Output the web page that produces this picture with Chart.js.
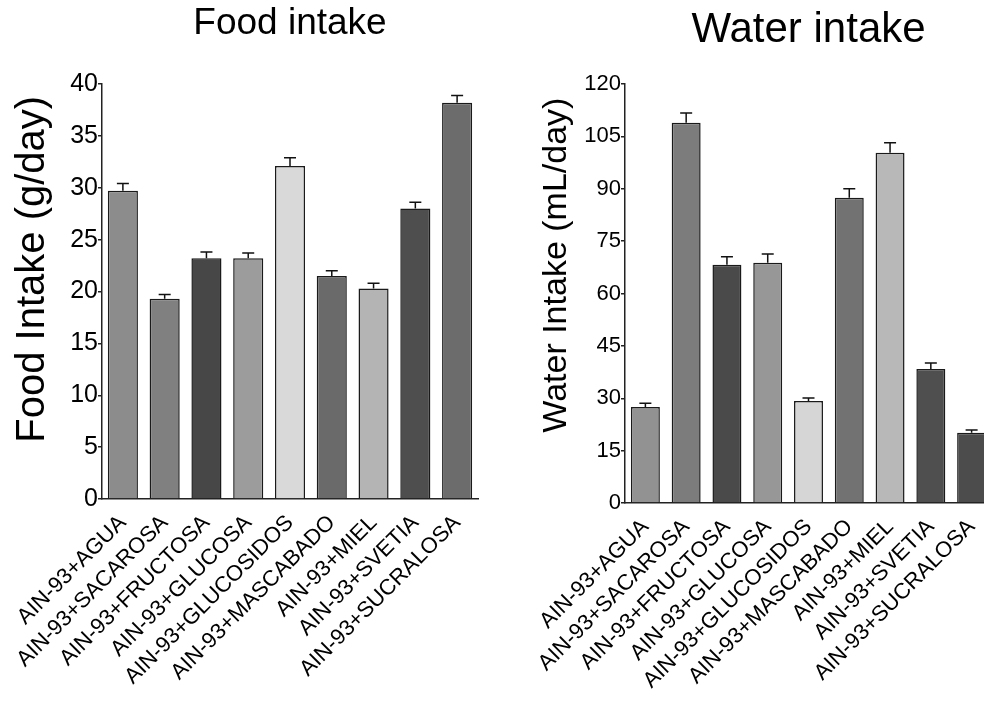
<!DOCTYPE html>
<html><head><meta charset="utf-8">
<script src="https://cdn.jsdelivr.net/npm/chart.js@4.4.1/dist/chart.umd.min.js"></script>
<style>
html,body{margin:0;padding:0;background:#fff;overflow:hidden;width:984px;height:706px;position:relative;}
#c1{position:absolute;left:0;top:0;}
#c2{position:absolute;left:500px;top:0;}
</style></head><body>
<canvas id="c1" width="492" height="706"></canvas>
<canvas id="c2" width="500" height="706"></canvas>
<script>
const categories = ["AIN-93+AGUA","AIN-93+SACAROSA","AIN-93+FRUCTOSA","AIN-93+GLUCOSA","AIN-93+GLUCOSIDOS","AIN-93+MASCABADO","AIN-93+MIEL","AIN-93+SVETIA","AIN-93+SUCRALOSA"];
const foodIntake = [29.7, 19.3, 23.2, 23.2, 32.1, 21.5, 20.3, 28.0, 38.2];
const foodSEM    = [0.7, 0.4, 0.6, 0.5, 0.8, 0.5, 0.5, 0.6, 0.7];
const waterIntake = [27.5, 108.9, 68.2, 68.8, 29.2, 87.4, 100.3, 38.4, 20.1];
const waterSEM    = [1.1, 2.8, 2.3, 2.5, 0.9, 2.6, 2.9, 1.7, 0.8];
const foodTickValues = [0,5,10,15,20,25,30,35,40];
const waterTickValues = [0,15,30,45,60,75,90,105,120];
const foodColors  = ["#8c8c8c","#808080","#474747","#9c9c9c","#d9d9d9","#6a6a6a","#b4b4b4","#4e4e4e","#6c6c6c"];
const waterColors = ["#929292","#7c7c7c","#4a4a4a","#979797","#d6d6d6","#727272","#b8b8b8","#4f4f4f","#4c4c4c"];

const FONT = "'Liberation Sans', Arial, sans-serif";

const errorBars = {
  id: 'errorBars',
  afterDatasetsDraw(chart, args, opts) {
    const meta = chart.getDatasetMeta(0);
    const ys = chart.scales.y;
    const ctx = chart.ctx;
    const data = chart.data.datasets[0].data;
    ctx.save();
    ctx.strokeStyle = '#111';
    ctx.lineWidth = 1.5;
    meta.data.forEach((bar, i) => {
      const v = data[i];
      const e = opts.errors[i];
      const yTop = ys.getPixelForValue(v + e);
      const yBar = ys.getPixelForValue(v);
      ctx.beginPath();
      ctx.moveTo(bar.x, yBar); ctx.lineTo(bar.x, yTop);
      ctx.moveTo(bar.x - opts.cap, yTop); ctx.lineTo(bar.x + opts.cap, yTop);
      ctx.stroke();
    });
    ctx.restore();
  }
};

function makeChart(id, cfg) {
  const ticks = cfg.tickValues;
  return new Chart(document.getElementById(id), {
    type: 'bar',
    data: {
      labels: categories,
      datasets: [{
        data: cfg.values,
        backgroundColor: cfg.colors,
        borderColor: '#1a1a1a',
        borderWidth: 1.5,
        barPercentage: cfg.barPct,
        categoryPercentage: 1.0
      }]
    },
    options: {
      responsive: false,
      animation: false,
      layout: { padding: { left: 0, right: cfg.padRight, top: 0, bottom: 0 } },
      plugins: {
        legend: { display: false },
        tooltip: { enabled: false },
        title: {
          display: true, text: cfg.title, fullSize: false, color: '#000',
          font: { family: FONT, size: cfg.titleSize, weight: 'normal', lineHeight: 1.2 },
          padding: { top: cfg.titlePadTop, bottom: cfg.titlePadBottom }
        },
        errorBars: { errors: cfg.errors, cap: 6 }
      },
      scales: {
        x: {
          afterFit: s => { s.height = cfg.xHeight; },
          grid: { display: false },
          border: { display: true, color: '#222', width: 1.5 },
          ticks: {
            autoSkip: false, maxRotation: 45, minRotation: 45, padding: 3, color: '#000',
            font: { family: FONT, size: cfg.xFont }
          }
        },
        y: {
          min: ticks[0], max: ticks[ticks.length - 1],
          afterFit: s => { s.width = cfg.yWidth; },
          afterBuildTicks: s => { s.ticks = ticks.map(v => ({ value: v })); },
          grid: { drawOnChartArea: false, drawTicks: true, tickLength: 4, color: '#222', lineWidth: 1.5 },
          border: { display: true, color: '#222', width: 1.5 },
          ticks: { padding: 0, color: '#000', font: { family: FONT, size: cfg.yFont } },
          title: {
            display: true, text: cfg.yTitle, color: '#000',
            font: { family: FONT, size: cfg.yTitleSize, lineHeight: 1.2 },
            padding: { top: cfg.yTitlePad, bottom: 0 }
          }
        }
      }
    },
    plugins: [errorBars]
  });
}

makeChart('c1', {
  title: 'Food intake', titleSize: 37, titlePadTop: 2, titlePadBottom: 37.6,
  values: foodIntake, errors: foodSEM, colors: foodColors, tickValues: foodTickValues,
  yTitle: '    Food Intake (g/day)', yTitleSize: 40, yTitlePad: 9, yFont: 25, xFont: 22,
  yWidth: 102, xHeight: 207, padRight: 14, barPct: 0.72
});
makeChart('c2', {
  title: 'Water intake', titleSize: 42, titlePadTop: 5, titlePadBottom: 28.6,
  values: waterIntake, errors: waterSEM, colors: waterColors, tickValues: waterTickValues,
  yTitle: '      Water Intake (mL/day)', yTitleSize: 34, yTitlePad: 36, yFont: 22, xFont: 22,
  yWidth: 125, xHeight: 203, padRight: 8, barPct: 0.71
});
</script>
</body></html>
